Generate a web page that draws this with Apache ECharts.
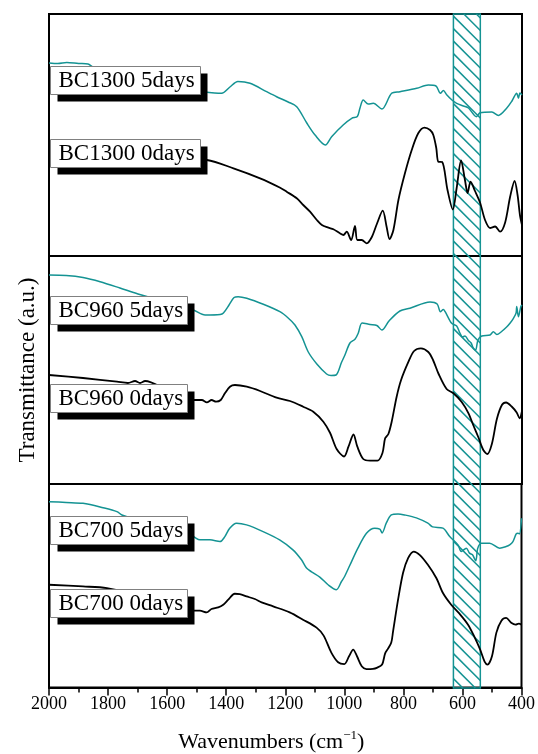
<!DOCTYPE html>
<html><head><meta charset="utf-8">
<script src="https://cdn.jsdelivr.net/npm/echarts@6/dist/echarts.min.js"></script>
<style>html,body{margin:0;padding:0;background:#fff}#c{width:538px;height:754px}</style>
</head><body><div id="c"></div>
<script>
// x: wavenumber (cm^-1), y: transmittance (a.u., offset within each panel)
const BC1300_5days = [[2000,193],[1970,192.5],[1940,193.5],[1900,192.5],[1868,192],[1850,189],[1700,178],[1550,168],[1472,164],[1440,163],[1416,162.7],[1388,169],[1361,174.5],[1320,172.7],[1264,164.3],[1230,159.3],[1191,154],[1162,149.3],[1128,133],[1100,121],[1065,111],[1044,119.3],[1005,131],[976,137.7],[957,139.5],[948,148],[937,156],[920,152],[903,152.7],[874,147],[841,162.7],[813,164.3],[756,167.7],[717,171],[691,170],[676,162.7],[666,165.5],[654,161],[637,156],[621,152.7],[598,150],[581,148],[554,139.3],[542,143.3],[502,144],[480,140.5],[452,147.7],[434,155],[418,162.7],[412,157.7],[407,163],[400,161]];
const BC1300_0days = [[2000,104],[1800,101],[1600,98],[1466,96],[1376,87.7],[1286,77.7],[1218,68.3],[1196,64.3],[1162,57.7],[1140,51],[1117,44.3],[1094,36],[1077,31],[1055,28.3],[1038,26.7],[1016,22.7],[1004,21],[993,24.3],[978,16],[965,30],[957,16],[942,16],[925,12.7],[908,19],[891,32],[871,45.3],[858,29.3],[848,17],[835,26],[818,56],[796,82.7],[773,106],[751,122.7],[730,128.3],[711,126],[700,121],[690,108],[683,94.3],[670,94],[652,66],[634,46.5],[621,68],[606,95.5],[593,76],[584,63],[574,74.3],[559,65],[542,53.5],[525,36],[508,28],[491,29.5],[474,24.3],[457,33.5],[440,59.5],[425,75],[415,61],[407,41],[400,31]];
const BC960_5days = [[2000,209],[1942,208.5],[1885,206.5],[1827,202.3],[1760,196],[1699,190],[1600,182],[1512,174],[1472,169],[1421,169.5],[1410,171],[1391,179],[1374,186.5],[1360,187.3],[1331,185.7],[1275,179.7],[1219,172.3],[1191,166],[1168,159],[1145,147.3],[1123,132],[1094,120],[1061,110],[1046,108.5],[1029,109],[1010,122],[999,129],[982,141],[965,144.7],[954,150.7],[941,161],[914,159.5],[891,158.5],[874,154],[850,163],[813,173],[779,175.7],[711,182],[687,180],[676,172.3],[666,174.5],[660,172.3],[638,160.7],[621,158],[610,151],[601,147],[593,148],[581,143.5],[572,141],[565,136],[557,134],[549,144],[536,148],[508,149],[497,152.3],[485,149.5],[471,152],[452,157],[440,161],[429,165.7],[420,171],[418,177.5],[412,167.3],[404,177.3],[400,179]];
const BC960_0days = [[2000,109],[1885,106],[1770,102.3],[1733,101],[1709,103],[1692,101],[1675,103],[1600,94],[1512,84],[1483,84],[1466,81.7],[1450,84],[1435,82.3],[1419,84],[1405,90.7],[1388,97.3],[1371,99],[1331,97.3],[1286,93],[1230,86.3],[1185,83],[1140,77.3],[1106,72.3],[1072,62.3],[1049,51],[1027,35],[1002,27.5],[987,37.3],[970,49.5],[957,37.3],[937,25],[914,23.3],[889,23.3],[872,31],[863,45.7],[852,50],[841,62],[824,87.3],[809,104],[784,122.3],[765,133],[742,135.7],[717,132],[701,124],[682,110],[655,95],[632,90.7],[604,82],[581,70.7],[565,59],[548,47],[531,34],[517,30],[502,40],[485,65],[468,79],[454,81.5],[435,77.5],[418,71.5],[408,65.7],[400,73]];
const BC700_5days = [[2000,186.3],[1942,185.5],[1885,184.7],[1861,183.5],[1827,181],[1770,176.3],[1753,173],[1650,163],[1550,154],[1512,151.3],[1489,148],[1455,148],[1421,146.3],[1405,151],[1388,159.7],[1365,164.7],[1331,163],[1275,156.3],[1219,148],[1174,138],[1145,128],[1128,119.7],[1111,116],[1083,110.7],[1055,103],[1027,98],[1010,106],[999,111.3],[982,122],[954,139.7],[925,154.7],[897,159.7],[880,158.7],[872,155],[858,164.7],[841,173],[818,174],[796,173],[756,170],[717,164.7],[701,161],[666,159.7],[643,151.3],[615,143],[604,136.3],[587,139.7],[576,134.7],[566,133],[555,127],[548,139.7],[536,144.7],[508,144.7],[474,139.7],[452,141.3],[440,143],[429,146.3],[418,154],[412,154.7],[407,154],[400,169.7]];
const BC700_0days = [[2000,103],[1885,101.3],[1804,99.7],[1700,93],[1600,85],[1512,77],[1489,77],[1466,75.3],[1450,78.7],[1427,80.3],[1410,83],[1393,88],[1371,94],[1354,93.5],[1331,91.3],[1303,88.7],[1280,85.3],[1241,81.3],[1185,75.3],[1140,68],[1094,60],[1070,52],[1044,35],[1021,25.3],[1000,23.5],[984,31.3],[970,38],[957,31.3],[941,21.3],[925,18.5],[903,18.7],[890,19.7],[872,23],[862,34],[852,39],[841,45],[835,56],[818,88],[801,115],[784,129.7],[765,136.3],[745,133],[717,123],[688,109.5],[666,94.7],[638,83],[610,74],[581,63],[559,50.5],[540,38],[525,26],[515,23],[500,31.3],[485,55],[468,67],[452,69.7],[435,65],[420,63],[409,64],[400,63]];

const seriesNames = ['BC1300 5days','BC1300 0days','BC960 5days','BC960 0days','BC700 5days','BC700 0days'];
const seriesData = [BC1300_5days, BC1300_0days, BC960_5days, BC960_0days, BC700_5days, BC700_0days];
const panelYMax = [242, 228, 204];
const HATCH_BAND = [632, 541];
const X_RANGE = [400, 2000];
const X_TICK_STEP = 200;
const X_NAME = 'Wavenumbers (cm';
const Y_NAME = 'Transmittance (a.u.)';

const FONT = 'Liberation Serif';
const TEAL = '#149393';
const chart = echarts.init(document.getElementById('c'), null, {renderer: 'canvas'});

const grids = [
  {left: 49, right: 16, top: 14, height: 242},
  {left: 49, right: 16, top: 256, height: 228},
  {left: 49, right: 16, top: 484, height: 204},
  {left: 49, right: 16, top: 14, height: 674}
].map(g => Object.assign({show: true, borderColor: '#000', borderWidth: 2, backgroundColor: 'transparent'}, g));
grids[3].show = false;

const xAxes = grids.map((g, i) => {
  const base = {gridIndex: i, type: 'value', min: X_RANGE[0], max: X_RANGE[1], interval: X_TICK_STEP, inverse: true, splitLine: {show: false}};
  if (i !== 2) return Object.assign(base, {show: false});
  return Object.assign(base, {
    axisLine: {show: true, lineStyle: {color: '#000', width: 2}},
    axisTick: {show: true, inside: false, length: 8, lineStyle: {color: '#000', width: 1.5}},
    minorTick: {show: true, splitNumber: 2, length: 5, lineStyle: {color: '#000', width: 1.5}},
    axisLabel: {color: '#000', fontSize: 18, fontFamily: FONT, margin: 8, formatter: v => String(v)},
    name: X_NAME + '{sup|\u22121}' + ')',
    nameLocation: 'middle', nameGap: 42,
    nameTextStyle: {color: '#000', fontSize: 22, fontFamily: FONT, padding: [0, 28, 0, 0],
      rich: {sup: {fontSize: 13, fontFamily: FONT, color: '#000', padding: [0, 0, 12, 0]}}}
  });
});

const yAxes = grids.map((g, i) => {
  const base = {gridIndex: i, type: 'value', min: 0, max: i < 3 ? panelYMax[i] : 1,
    axisLine: {show: false}, axisTick: {show: false}, axisLabel: {show: false}, splitLine: {show: false}};
  if (i === 1) return Object.assign(base, {name: Y_NAME, nameLocation: 'middle', nameRotate: 90, nameGap: 10,
    nameTextStyle: {color: '#000', fontSize: 23, fontFamily: FONT}});
  if (i === 3) base.show = false;
  return base;
});

const series = seriesData.map((d, k) => ({
  name: seriesNames[k], type: 'line', xAxisIndex: Math.floor(k / 2), yAxisIndex: Math.floor(k / 2),
  data: d, showSymbol: false, smooth: 0.3, z: 3,
  lineStyle: {color: k % 2 === 0 ? TEAL : '#000', width: k % 2 === 0 ? 1.5 : 1.8},
  silent: true, animation: false
}));

series.push({
  type: 'custom', xAxisIndex: 3, yAxisIndex: 3, z: 1, silent: true, animation: false,
  data: [[HATCH_BAND[0], HATCH_BAND[1], 0.5]], encode: {x: [0, 1], y: 2},
  renderItem: function (params, api) {
    const a = api.coord([api.value(0), 1]);
    const b = api.coord([api.value(1), 0]);
    const x0 = Math.min(a[0], b[0]), x1 = Math.max(a[0], b[0]);
    const y0 = Math.min(a[1], b[1]), y1 = Math.max(a[1], b[1]);
    const children = [];
    const step = 12.5;
    for (let c = y0 - x1 + 4; c <= y1 - x0; c += step) {
      const xs = Math.max(x0, y0 - c), xe = Math.min(x1, y1 - c);
      if (xe <= xs) continue;
      children.push({type: 'line', shape: {x1: xs, y1: xs + c, x2: xe, y2: xe + c}, style: {stroke: TEAL, lineWidth: 1.5}});
    }
    children.push({type: 'rect', shape: {x: x0, y: y0, width: x1 - x0, height: y1 - y0}, style: {fill: 'none', stroke: TEAL, lineWidth: 1.5}});
    return {type: 'group', children: children};
  }
});

const labelBoxes = [
  {left: 50, top: 66, w: 150},
  {left: 50, top: 139, w: 150},
  {left: 50, top: 296, w: 137},
  {left: 50, top: 384, w: 137},
  {left: 50, top: 516, w: 137},
  {left: 50, top: 589, w: 137}
];
const graphics = labelBoxes.map((b, k) => ({
  type: 'group', left: b.left, top: b.top, z: 100, zlevel: 1,
  children: [
    {type: 'rect', z: 100, zlevel: 1, shape: {x: 7, y: 7, width: b.w, height: 28}, style: {fill: '#000'}},
    {type: 'rect', z: 101, zlevel: 1, shape: {x: 0, y: 0, width: b.w, height: 28}, style: {fill: '#fff', stroke: '#808080', lineWidth: 1}},
    {type: 'text', z: 102, zlevel: 1, x: 8, y: 14, style: {text: seriesNames[k], fontSize: 23, fontFamily: FONT, fill: '#000', verticalAlign: 'middle', align: 'left'}}
  ]
}));

chart.setOption({
  animation: false,
  backgroundColor: '#fff',
  grid: grids, xAxis: xAxes, yAxis: yAxes, series: series, graphic: graphics
});
</script></body></html>
